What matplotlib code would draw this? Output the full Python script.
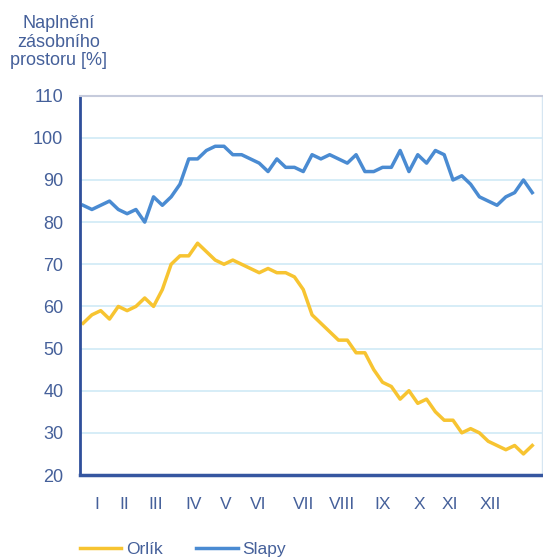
import matplotlib
matplotlib.use("Agg")
import matplotlib.pyplot as plt
from matplotlib.lines import Line2D

plt.rcParams['font.family'] = ['Liberation Sans', 'DejaVu Sans']

weeks = list(range(52))
orlik = [56, 58, 59, 57, 60, 59, 60, 62, 60, 64, 70, 72, 72, 75, 73, 71, 70, 71, 70, 69,
         68, 69, 68, 68, 67, 64, 58, 56, 54, 52, 52, 49, 49, 45, 42, 41, 38, 40, 37, 38,
         35, 33, 33, 30, 31, 30, 28, 27, 26, 27, 25, 27]
slapy = [84, 83, 84, 85, 83, 82, 83, 80, 86, 84, 86, 89, 95, 95, 97, 98, 98, 96, 96, 95,
         94, 92, 95, 93, 93, 92, 96, 95, 96, 95, 94, 96, 92, 92, 93, 93, 97, 92, 96, 94,
         97, 96, 90, 91, 89, 86, 85, 84, 86, 87, 90, 87]
month_labels = ['I', 'II', 'III', 'IV', 'V', 'VI', 'VII', 'VIII', 'IX', 'X', 'XI', 'XII']
month_pos = [1.6, 4.7, 8.2, 12.5, 16.25, 19.9, 25.0, 29.4, 34.0, 38.2, 41.7, 46.25]
y_ticks = [20, 30, 40, 50, 60, 70, 80, 90, 100, 110]

txt = '#45609a'
c_orlik = '#f7c431'
c_slapy = '#4a8bd2'

fig = plt.figure(figsize=(5.43, 5.57), dpi=100)
ax = fig.add_axes([80/543, 1-475/557, (541.5-80)/543, (475-95.7)/557])

ax.plot(weeks, orlik, color=c_orlik, lw=2.5, solid_joinstyle='round')
ax.plot(weeks, slapy, color=c_slapy, lw=2.5, solid_joinstyle='round')

ax.set_xlim(-0.35, 52.05)
ax.set_ylim(20, 110)
ax.set_yticks(y_ticks)
ax.set_xticks(month_pos)
ax.set_xticklabels(month_labels)
ax.tick_params(axis='both', length=0, colors=txt)
ax.tick_params(axis='y', labelsize=13, pad=12)
ax.tick_params(axis='x', labelsize=12.5, pad=16)

for v in y_ticks[1:-1]:
    ax.axhline(v, color='#cfeaf6', lw=1.2, zorder=0)

ax.spines['left'].set_color('#2f4f9b')
ax.spines['left'].set_linewidth(2)
ax.spines['bottom'].set_color('#3556a0')
ax.spines['bottom'].set_linewidth(2.5)
ax.spines['top'].set_color('#c6cbdc')
ax.spines['top'].set_linewidth(1.5)
ax.spines['right'].set_color('#d6e6f2')
ax.spines['right'].set_linewidth(1)

fig.text(59/543, 1-15/557, 'Naplnění\nzásobního\nprostoru [%]', ha='center', va='top',
         fontsize=13, color=txt, linespacing=1.12)

handles = [Line2D([], [], color=c_orlik, lw=2.5), Line2D([], [], color=c_slapy, lw=2.5)]
fig.legend(handles, ['Orlík', 'Slapy'], loc='center left', bbox_to_anchor=(64/543, 1-549/557),
           ncol=2, frameon=False, fontsize=12.5, handlelength=2.4, handletextpad=0.25,
           columnspacing=1.95, labelcolor=txt)

fig.savefig('out.png', dpi=100)
